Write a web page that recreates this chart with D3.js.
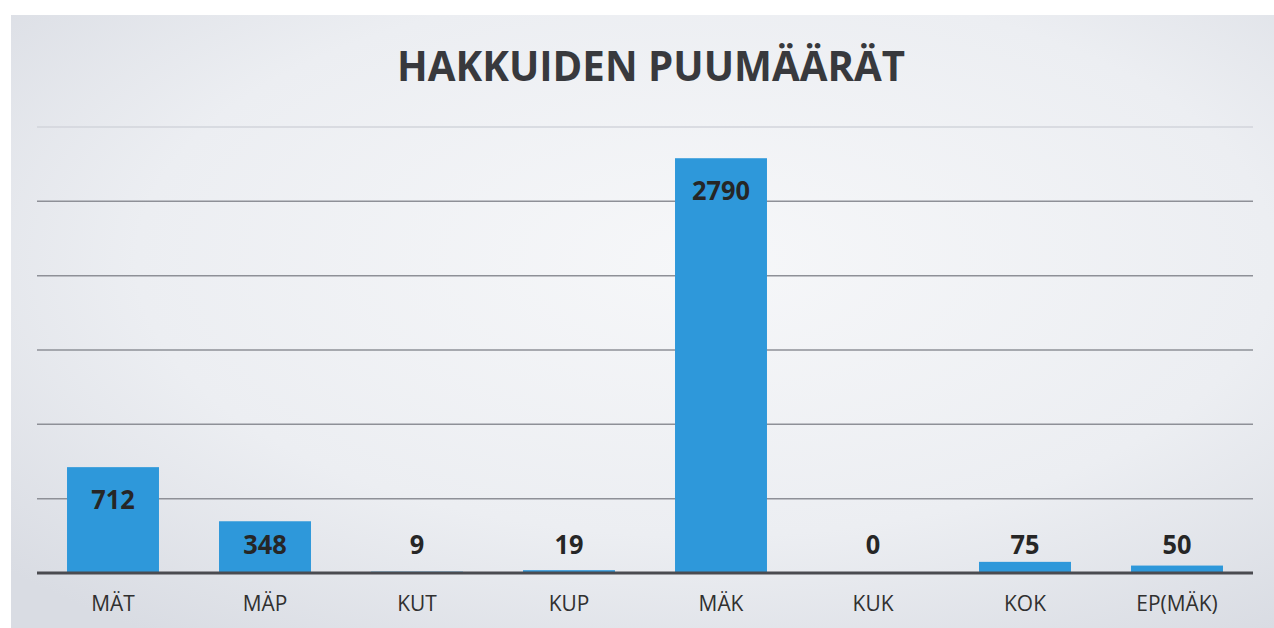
<!DOCTYPE html>
<html>
<head>
<meta charset="utf-8">
<script src="https://cdn.jsdelivr.net/npm/d3@7"></script>
<style>
  body { margin: 0; background: #fff; }
  svg { display: block; }
</style>
</head>
<body>
<svg id="chart" width="1274" height="628"></svg>
<script>
const categories = ['MÄT', 'MÄP', 'KUT', 'KUP', 'MÄK', 'KUK', 'KOK', 'EP(MÄK)'];
const values = [712, 348, 9, 19, 2790, 0, 75, 50];
const yTicks = [0, 500, 1000, 1500, 2000, 2500, 3000];
const title = 'HAKKUIDEN PUUMÄÄRÄT';

const svg = d3.select('#chart');
const width = 1274;
const height = 628;
const margin = { top: 127, right: 21, bottom: 55, left: 37 };

// background panel
const defs = svg.append('defs');
const grad = defs.append('radialGradient')
    .attr('id', 'bg')
    .attr('cx', '55%').attr('cy', '40%').attr('r', '75%');
grad.append('stop').attr('offset', '0%').attr('stop-color', '#f6f7f9');
grad.append('stop').attr('offset', '60%').attr('stop-color', '#eceef2');
grad.append('stop').attr('offset', '100%').attr('stop-color', '#d9dce3');

svg.append('rect')
    .attr('x', 11).attr('y', 15)
    .attr('width', width - 11).attr('height', height - 15)
    .attr('fill', 'url(#bg)');

// Scales
const x = d3.scaleBand()
    .domain(categories)
    .range([margin.left, width - margin.right])
    .paddingInner(0.395)
    .paddingOuter(0.1975);

const y = d3.scaleLinear()
    .domain([0, 3000])
    .range([height - margin.bottom, margin.top]);

// gridlines
svg.append('g')
    .selectAll('line')
    .data(yTicks.slice(1))
    .enter().append('line')
    .attr('x1', margin.left)
    .attr('x2', width - margin.right)
    .attr('y1', d => y(d))
    .attr('y2', d => y(d))
    .attr('stroke', d => d >= 3000 ? '#d2d5db' : '#8e9097')
    .attr('stroke-width', 1.5);

// bars
svg.append('g')
    .selectAll('rect')
    .data(values)
    .enter().append('rect')
    .attr('x', (d, i) => x(categories[i]))
    .attr('y', d => y(d))
    .attr('width', x.bandwidth())
    .attr('height', d => y(0) - y(d))
    .attr('fill', '#2e98da');

// baseline
svg.append('line')
    .attr('x1', margin.left)
    .attr('x2', width - margin.right)
    .attr('y1', y(0))
    .attr('y2', y(0))
    .attr('stroke', '#4a4b50')
    .attr('stroke-width', 3);

// value labels
svg.append('g')
    .selectAll('text')
    .data(values)
    .enter().append('text')
    .attr('x', (d, i) => x(categories[i]) + x.bandwidth() / 2)
    .attr('y', d => Math.min(y(d) + 42, y(0) - 19))
    .attr('text-anchor', 'middle')
    .attr('font-family', 'Open Sans, sans-serif')
    .attr('font-weight', 'bold')
    .attr('font-size', 27)
    .attr('fill', '#262626')
    .attr('textLength', d => String(d).length * 14.5)
    .attr('lengthAdjust', 'spacingAndGlyphs')
    .text(d => d);

// x axis labels
const xAxis = svg.append('g')
    .attr('transform', `translate(0,${y(0)})`)
    .call(d3.axisBottom(x).tickSize(0).tickPadding(22));
xAxis.select('.domain').remove();
xAxis.selectAll('text')
    .attr('font-family', 'Open Sans, sans-serif')
    .attr('font-size', 22)
    .attr('fill', '#303030')
    .attr('textLength', function() { return this.getComputedTextLength() * 0.95; })
    .attr('lengthAdjust', 'spacingAndGlyphs');

// title
svg.append('text')
    .attr('x', 651)
    .attr('y', 81)
    .attr('text-anchor', 'middle')
    .attr('font-family', 'Open Sans, sans-serif')
    .attr('font-weight', 'bold')
    .attr('font-size', 42)
    .attr('fill', '#38393d')
    .attr('textLength', 508)
    .attr('lengthAdjust', 'spacingAndGlyphs')
    .text(title);
</script>
</body>
</html>
